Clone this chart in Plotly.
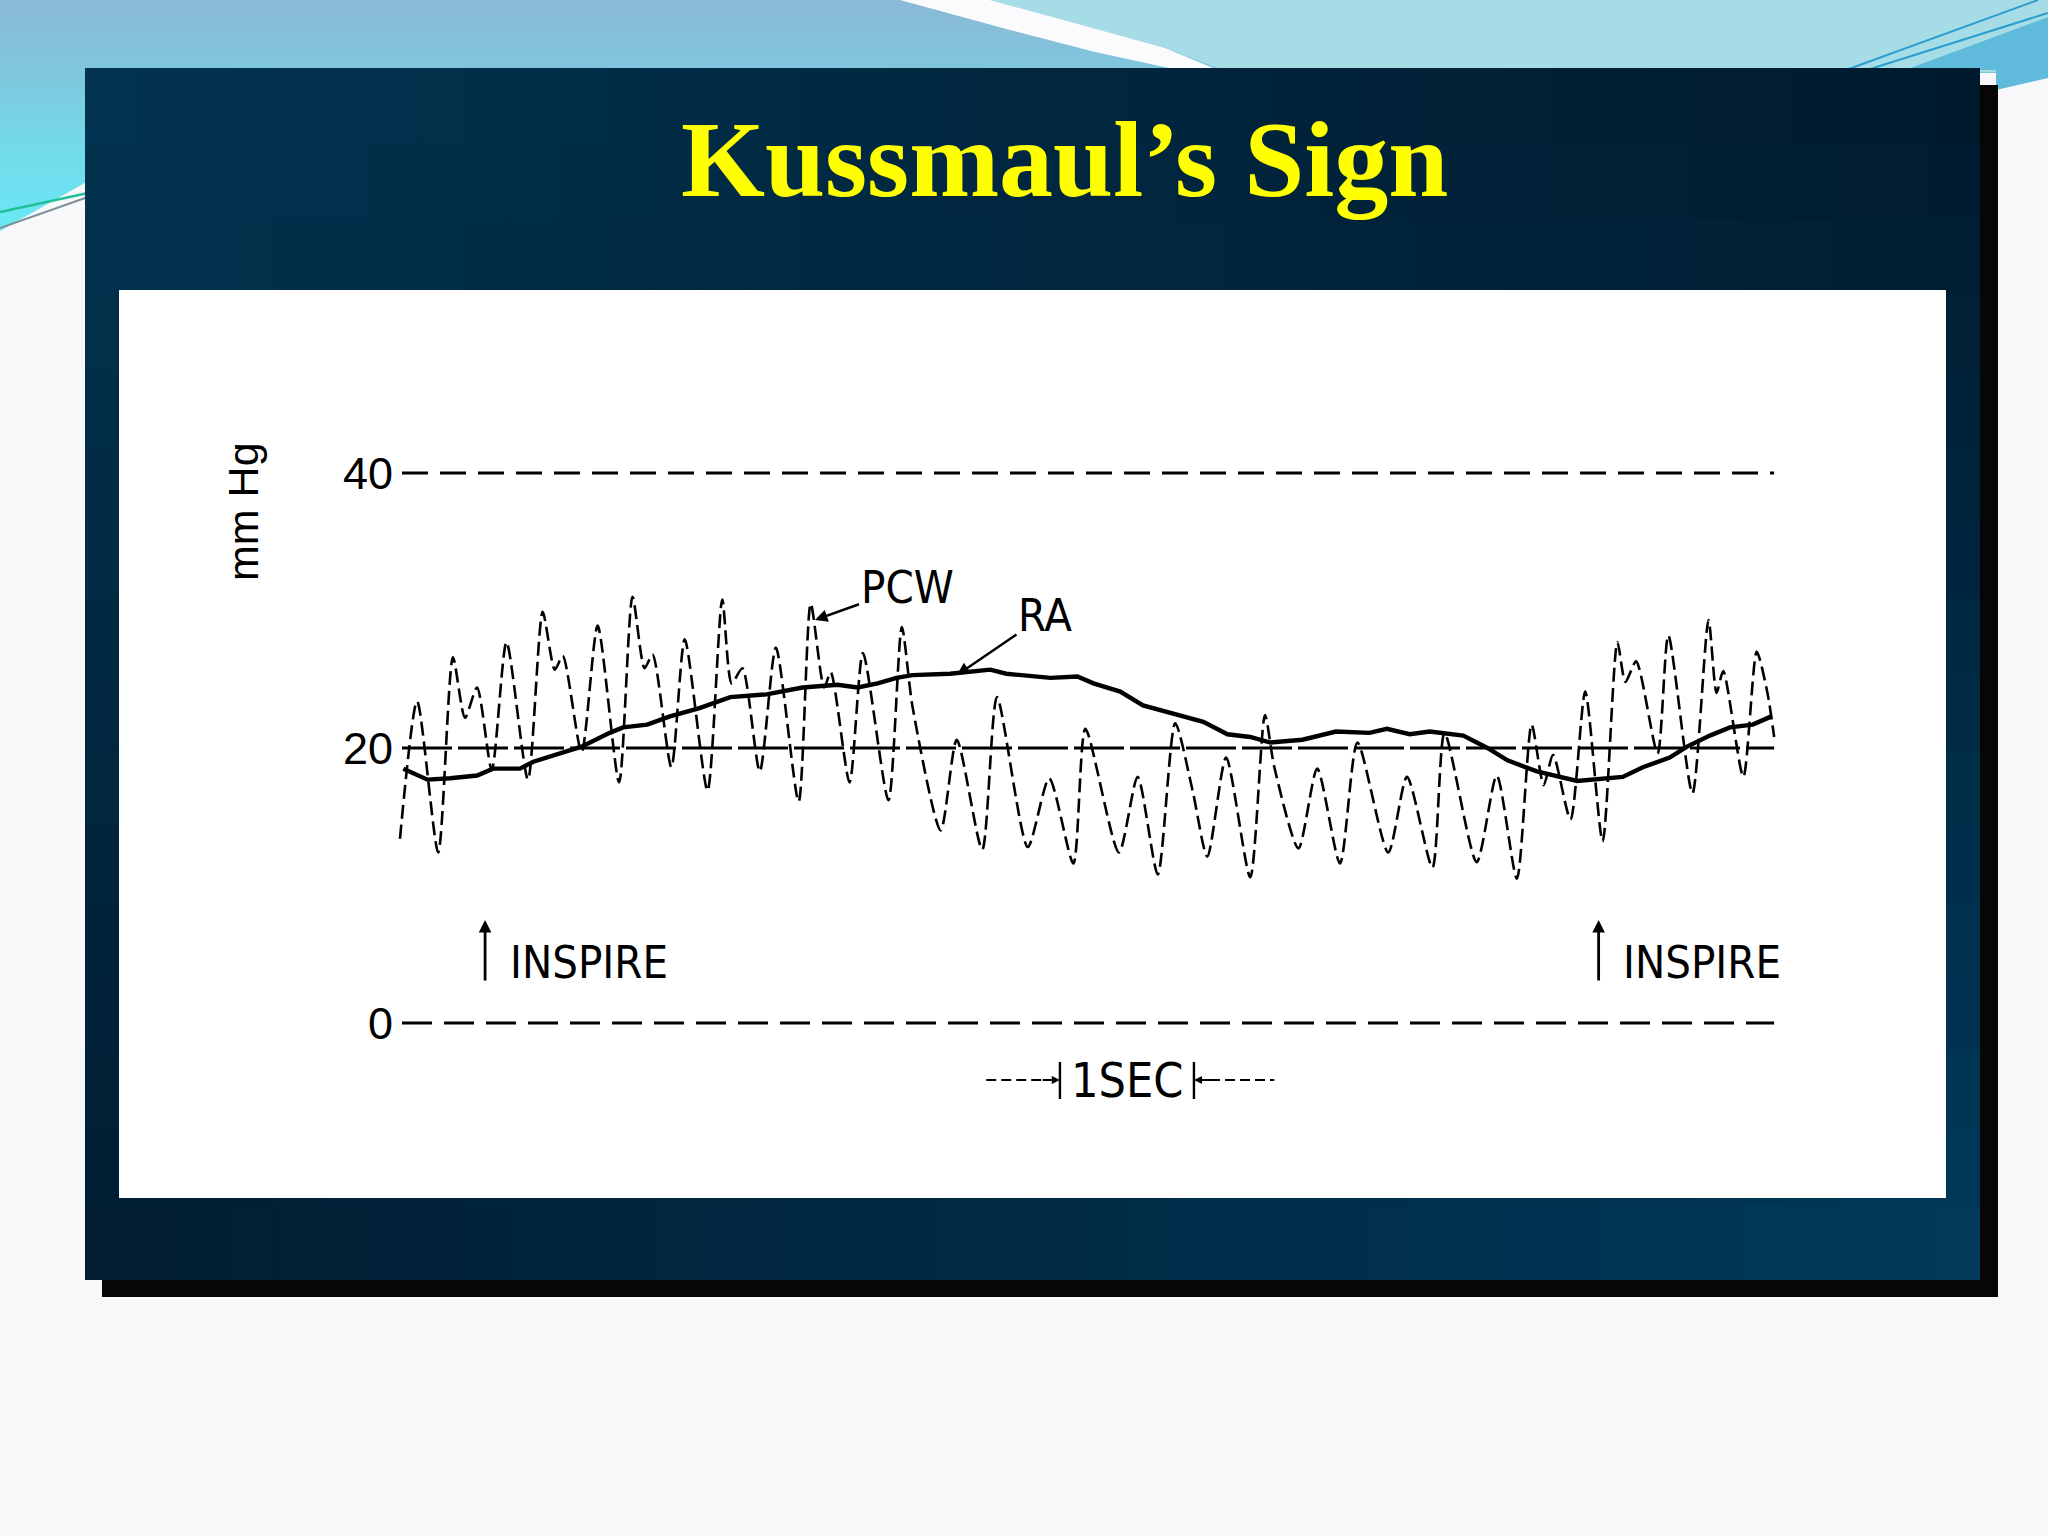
import plotly.graph_objects as go

W, H = 2048, 1536
OFF = 0          # body margin is removed by the post script below
FW, FH = W - 2 * OFF, H - 2 * OFF

# ---------------- data ----------------
title_text = "Kussmaul’s Sign"

# PCW (pulmonary capillary wedge) pressure, time in s, pressure in mm Hg
pcw_t = [-0.015, 0.113, 0.27, 0.38, 0.47, 0.56, 0.67, 0.78, 0.94, 1.05, 1.14, 1.20,
         1.34, 1.46, 1.62, 1.72, 1.81, 1.87, 2.01, 2.11, 2.28, 2.39, 2.46, 2.54,
         2.67, 2.79, 2.96, 3.05, 3.15, 3.20, 3.34, 3.44, 3.63, 3.73, 3.81, 4.02,
         4.14, 4.33, 4.44, 4.67, 4.83, 5.01, 5.10, 5.35, 5.49, 5.64, 5.77, 5.90,
         6.01, 6.15, 6.33, 6.44, 6.51, 6.69, 6.83, 7.00, 7.13, 7.36, 7.50, 7.69,
         7.78, 8.02, 8.17, 8.32, 8.43, 8.52, 8.59, 8.72, 8.83, 8.96, 9.07, 9.13,
         9.21, 9.37, 9.45, 9.63, 9.75, 9.81, 9.86, 10.01, 10.11, 10.19, 10.24]
pcw_mmhg = [13.4, 23.4, 12.4, 26.6, 22.2, 24.4, 18.4, 27.7, 17.7, 29.9, 25.7, 26.7,
            19.7, 28.9, 17.5, 31.0, 25.8, 26.8, 18.6, 27.9, 16.9, 30.8, 24.7, 25.8,
            18.3, 27.3, 16.1, 30.5, 24.4, 25.5, 17.5, 26.9, 16.2, 28.8, 23.0, 14.0,
            20.6, 12.6, 23.7, 12.8, 17.8, 11.6, 21.4, 12.4, 17.9, 10.8, 21.8, 16.9,
            12.1, 19.3, 10.6, 22.4, 18.6, 12.7, 18.5, 11.6, 20.4, 12.4, 17.9, 11.3,
            21.1, 11.7, 18.0, 10.5, 21.7, 17.3, 19.5, 14.8, 24.1, 13.2, 27.7, 24.8,
            26.3, 19.6, 28.2, 16.7, 29.3, 24.0, 25.6, 17.9, 27.0, 24.0, 20.8]

# RA (right atrial) pressure
ra_t = [0.01, 0.19, 0.36, 0.56, 0.68, 0.88, 0.98, 1.18, 1.34, 1.55, 1.65, 1.83,
        2.00, 2.22, 2.45, 2.72, 2.99, 3.25, 3.40, 3.55, 3.69, 3.81, 4.09, 4.39,
        4.51, 4.84, 5.04, 5.16, 5.36, 5.53, 5.73, 5.98, 6.16, 6.33, 6.48, 6.72,
        6.97, 7.22, 7.35, 7.52, 7.67, 7.92, 8.10, 8.25, 8.47, 8.77, 9.11, 9.26,
        9.46, 9.59, 9.76, 9.91, 10.08, 10.22]
ra_mmhg = [18.5, 17.7, 17.8, 18.0, 18.5, 18.5, 19.0, 19.6, 20.1, 21.1, 21.5, 21.7,
           22.3, 22.9, 23.7, 23.9, 24.4, 24.6, 24.4, 24.7, 25.1, 25.3, 25.4, 25.7,
           25.4, 25.1, 25.2, 24.7, 24.1, 23.1, 22.6, 21.9, 21.0, 20.8, 20.4, 20.6,
           21.2, 21.1, 21.4, 21.0, 21.2, 20.9, 20.0, 19.1, 18.3, 17.6, 17.9, 18.6,
           19.3, 20.1, 20.9, 21.5, 21.7, 22.3]

ref_levels = [40, 20, 0]
ref_span_t = [0.0, 10.24]
ytick_vals = [0, 20, 40]
ytick_text = ["0", "20", "40"]
y_label = "mm Hg"
inspire_t = [0.62, 8.93]
inspire_label = "INSPIRE"
scale_t0 = 4.91
scale_len = 1.0
scale_label = "1SEC"

# ---------------- geometry (pixels of the page) ----------------
T0_PX, PX_PER_S = 402, 134.0
P0_PX, PX_PER_MM = 1023, 13.75


def t_of(px):
    return (px - T0_PX) / PX_PER_S


def p_of(py):
    return (P0_PX - py) / PX_PER_MM


def fx(px):
    return (px - OFF) / FW


def fy(py):
    return 1 - (py - OFF) / FH


XDOM_PX = (398, 1790)
YRANGE = (-6, 42)
xdom = [fx(XDOM_PX[0]), fx(XDOM_PX[1])]
xrange_ = [t_of(XDOM_PX[0]), t_of(XDOM_PX[1])]
ydom = [fy(P0_PX - YRANGE[0] * PX_PER_MM), fy(P0_PX - YRANGE[1] * PX_PER_MM)]

# ---------------- decoration shapes ----------------
shapes = []


def hex2rgb(h):
    h = h.lstrip('#')
    return [int(h[i:i + 2], 16) for i in (0, 2, 4)]


def mix(c1, c2, t):
    a, b = hex2rgb(c1), hex2rgb(c2)
    return 'rgb(%d,%d,%d)' % tuple(round(a[i] + (b[i] - a[i]) * t) for i in range(3))


def rect(x0, y0, x1, y1, color):
    shapes.append(dict(type='rect', xref='paper', yref='paper', x0=fx(x0), x1=fx(x1),
                       y0=fy(y1), y1=fy(y0), fillcolor=color, line=dict(width=0), layer='below'))


def poly(pts, color):
    path = 'M ' + ' L '.join('%.5f,%.5f' % (fx(x), fy(y)) for x, y in pts) + ' Z'
    shapes.append(dict(type='path', xref='paper', yref='paper', path=path,
                       fillcolor=color, line=dict(width=0), layer='below'))


def seg(x0, y0, x1, y1, color, w):
    shapes.append(dict(type='line', xref='paper', yref='paper', x0=fx(x0), y0=fy(y0),
                       x1=fx(x1), y1=fy(y1), line=dict(color=color, width=w), layer='below'))


def grad_color(stops, y):
    for (ya, ca), (yb, cb) in zip(stops, stops[1:]):
        if ya <= y <= yb:
            return mix(ca, cb, (y - ya) / (yb - ya))
    return mix(stops[-1][1], stops[-1][1], 0)


stops = [(0, '#8bb9d5'), (70, '#7fc6dc'), (140, '#74d8ea'), (240, '#69eaf5')]
for y in range(0, 72, 6):
    rect(0, y, W, y + 7, grad_color(stops, y + 3))
for y in range(70, 245, 8):
    rect(0, y, 90, y + 9, grad_color(stops, y + 4))

# light cyan area right of the white swoosh
poly([(990, 0), (1100, 30), (1165, 48), (1218, 68), (1218, 72), (W, 72), (W, 0)], '#a6dce6')
# white swoosh
poly([(900, 0), (1010, 30), (1095, 52), (1178, 70), (1218, 70), (1165, 48), (1100, 30), (990, 0)],
     '#fbfbfd')
# right corner wedge and lines
poly([(1905, 70), (2048, 17), (2048, 78), (1996, 90), (1996, 70)], '#5fbadb')
seg(2038, 0, 1846, 70, '#2a9fcf', 2)
seg(2048, 13, 1867, 70, '#2a9fcf', 2)
# white area under the left slant
poly([(0, 231), (90, 180), (90, 320), (0, 320)], '#f8f8fb')
seg(0, 212, 88, 193, '#1fbf98', 2.5)
seg(0, 228, 88, 197, '#7f9096', 2)

# panel shadow
rect(102, 85, 1998, 1297, '#060606')
# panel with bilinear gradient
TL, TR, BL, BR = '#023452', '#00192b', '#011c30', '#003a5c'
PX0, PY0, PX1, PY1 = 85, 68, 1980, 1280
NC, NR = 40, 16
for i in range(NC):
    for j in range(NR):
        u = (i + 0.5) / NC
        v = (j + 0.5) / NR
        top = hex2rgb(TL), hex2rgb(TR)
        bot = hex2rgb(BL), hex2rgb(BR)
        c = []
        for k in range(3):
            a = top[0][k] + (top[1][k] - top[0][k]) * u
            b = bot[0][k] + (bot[1][k] - bot[0][k]) * u
            c.append(round(a + (b - a) * v))
        x0 = PX0 + (PX1 - PX0) * i / NC
        x1 = PX0 + (PX1 - PX0) * (i + 1) / NC + (1 if i < NC - 1 else 0)
        y0 = PY0 + (PY1 - PY0) * j / NR
        y1 = PY0 + (PY1 - PY0) * (j + 1) / NR + (1 if j < NR - 1 else 0)
        rect(x0, y0, x1, y1, 'rgb(%d,%d,%d)' % tuple(c))
# white chart card
rect(119, 290, 1946, 1198, '#ffffff')

# ---------------- traces ----------------
fig = go.Figure()
ref_dash = {40: '26px,12px', 20: '50px,6px', 0: '30px,12px'}
for lvl in ref_levels:
    fig.add_trace(go.Scatter(x=ref_span_t, y=[lvl, lvl], mode='lines',
                             line=dict(color='black', width=2.8, dash=ref_dash[lvl]),
                             hoverinfo='skip', showlegend=False))

fig.add_trace(go.Scatter(x=ra_t, y=ra_mmhg, mode='lines', name='RA',
                         line=dict(color='black', width=4.4), showlegend=False))
fig.add_trace(go.Scatter(x=pcw_t, y=pcw_mmhg, mode='lines', name='PCW',
                         line=dict(color='black', width=2.6, dash='14px,6px',
                                   shape='spline', smoothing=0.7),
                         showlegend=False))

# 1 s scale bar
bar_lo, bar_hi, bar_mid = p_of(1099), p_of(1062), p_of(1080)
for tb in (scale_t0, scale_t0 + scale_len):
    fig.add_trace(go.Scatter(x=[tb, tb], y=[bar_lo, bar_hi], mode='lines',
                             line=dict(color='black', width=2.4), hoverinfo='skip',
                             showlegend=False))
fig.add_trace(go.Scatter(x=[scale_t0 - 0.55, scale_t0 - 0.12], y=[bar_mid, bar_mid], mode='lines',
                         line=dict(color='black', width=1.8, dash='10px,5px'),
                         hoverinfo='skip', showlegend=False))
fig.add_trace(go.Scatter(x=[scale_t0 + scale_len + 0.12, scale_t0 + scale_len + 0.6],
                         y=[bar_mid, bar_mid], mode='lines',
                         line=dict(color='black', width=1.8, dash='10px,5px'),
                         hoverinfo='skip', showlegend=False))

lab_family = 'DejaVu Sans Condensed, Liberation Sans Narrow, Liberation Sans'
lab_font = dict(family=lab_family, size=45, color='black')
ann = []
ann.append(dict(text=title_text, xref='paper', yref='paper', x=fx(1064), y=fy(160),
                showarrow=False, xanchor='center', yanchor='middle',
                font=dict(family='Liberation Serif', size=108, color='#ffff00', weight='bold')))
ann.append(dict(text=y_label, xref='paper', yref='paper', x=fx(243), y=fy(512),
                showarrow=False, textangle=-90, xanchor='center', yanchor='middle',
                font=dict(family='Liberation Sans', size=43, color='black')))
ann.append(dict(text='PCW', x=t_of(815), y=p_of(620), ax=92, ay=-33, showarrow=True,
                arrowhead=2, arrowsize=1, arrowwidth=2.5, arrowcolor='black', font=lab_font))
ann.append(dict(text='RA', x=t_of(957), y=p_of(675), ax=88, ay=-60, showarrow=True,
                arrowhead=2, arrowsize=1, arrowwidth=2.5, arrowcolor='black', font=lab_font))
for ti in inspire_t:
    ann.append(dict(text='', x=ti, y=p_of(920), ax=ti, ay=p_of(982), axref='x', ayref='y',
                    showarrow=True, arrowhead=2, arrowsize=0.9, arrowwidth=2.8, arrowcolor='black'))
    ann.append(dict(text=inspire_label, x=ti + 0.17, y=p_of(962), showarrow=False,
                    xanchor='left', yanchor='middle', font=lab_font))
ann.append(dict(text='', x=scale_t0, y=bar_mid, ax=scale_t0 - 0.14, ay=bar_mid, axref='x', ayref='y',
                showarrow=True, arrowhead=2, arrowsize=0.9, arrowwidth=1.8, arrowcolor='black'))
ann.append(dict(text='', x=scale_t0 + scale_len, y=bar_mid, ax=scale_t0 + scale_len + 0.14, ay=bar_mid,
                axref='x', ayref='y', showarrow=True, arrowhead=2, arrowsize=0.9, arrowwidth=1.8,
                arrowcolor='black'))
ann.append(dict(text=scale_label, x=scale_t0 + scale_len / 2, y=bar_mid, showarrow=False,
                xanchor='center', yanchor='middle',
                font=dict(family=lab_family, size=48, color='black')))

fig.update_layout(
    width=FW, height=FH, autosize=False,
    margin=dict(l=0, r=0, t=0, b=0, pad=0),
    paper_bgcolor='#f8f8fb', plot_bgcolor='rgba(0,0,0,0)',
    shapes=shapes, annotations=ann, showlegend=False,
    xaxis=dict(domain=xdom, range=xrange_, visible=False, fixedrange=True),
    yaxis=dict(domain=ydom, range=list(YRANGE), showgrid=False, zeroline=False, showline=False,
               ticks='', tickvals=ytick_vals, ticktext=ytick_text, ticklabelstandoff=4,
               tickfont=dict(family='Liberation Sans', size=45, color='black'), fixedrange=True),
)

fig.write_html("out.html", config={'displayModeBar': False},
               post_script="document.body.style.margin='0';document.body.style.overflow='hidden';")
